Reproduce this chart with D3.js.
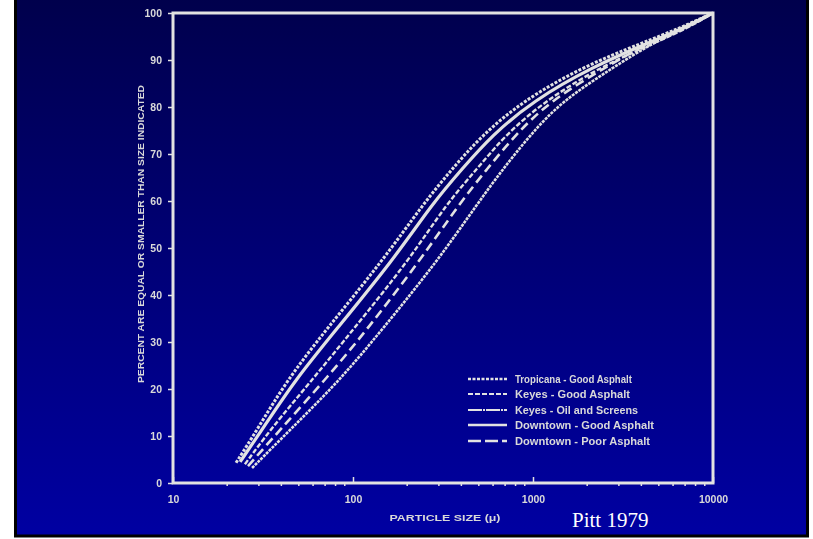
<!DOCTYPE html>
<html lang="en">
<head>
<meta charset="utf-8">
<title>Particle size distribution - Pitt 1979</title>
<script src="https://cdn.jsdelivr.net/npm/d3@7"></script>
<style>
  body { margin: 0; background: white; }
  svg { display: block; }
  .lbl { font-family: "Liberation Sans", Arial, sans-serif; font-weight: bold; fill: #d9d9d9; }
</style>
</head>
<body>
<svg id="chart" width="813" height="539"></svg>
<script>
// particle size (microns) vs percent equal or smaller
var pctLevels = [11.3, 21.9, 32.6, 47.4, 59.6, 66.8, 74.0, 81.3, 88.5, 93.6, 96.8, 100];

var tropicanaGood = [22.4, 29.3, 43.0, 70.8, 146.8, 248, 355, 521, 880, 1872, 4033, 6556, 10000];
var keyesGood     = [23.6, 31.2, 47.6, 80.5, 166.8, 278, 403, 592, 1000, 2127, 4355, 6902, 10000];
var keyesOil      = [25.1, 34.6, 59.2, 100, 204.7, 333, 489, 699, 1166, 2356, 4701, 7263, 10000];
var downtownGood  = [26.1, 39.3, 69.9, 119.6, 236, 393, 555, 794, 1243, 2544, 4355, 6902, 10000];
var downtownPoor  = [27.5, 44.7, 84.7, 144.9, 297, 495, 681, 962, 1449, 2818, 4584, 7079, 10000];

var startPcts = [4.3, 4.5, 4.0, 3.6, 3.2];

var seriesNames = ["Tropicana - Good Asphalt", "Keyes - Good Asphalt", "Keyes - Oil and Screens",
                   "Downtown - Good Asphalt", "Downtown - Poor Asphalt"];
var seriesSizes = [tropicanaGood, keyesGood, keyesOil, downtownGood, downtownPoor];

var yTicks = [0, 10, 20, 30, 40, 50, 60, 70, 80, 90, 100];
var xTicks = [10, 100, 1000, 10000];

var svg = d3.select("#chart");

// slide background
var defs = svg.append("defs");
var grad = defs.append("linearGradient").attr("id", "bg")
  .attr("x1", 0).attr("y1", 0).attr("x2", 0).attr("y2", 1);
grad.append("stop").attr("offset", "0%").attr("stop-color", "#00004c");
grad.append("stop").attr("offset", "100%").attr("stop-color", "#0000a2");

defs.append("filter").attr("id", "scan")
  .append("feGaussianBlur").attr("stdDeviation", 0.45);

svg.append("rect").attr("x", 15.5).attr("y", -2).attr("width", 792).attr("height", 538)
  .attr("fill", "url(#bg)").attr("stroke", "black").attr("stroke-width", 3);

var margin = {left: 173, right: 713, top: 13, bottom: 483};

var x = d3.scaleLog().domain([10, 10000]).range([margin.left, margin.right]);
var y = d3.scaleLinear().domain([0, 100]).range([margin.bottom, margin.top]);

var g = svg.append("g").attr("filter", "url(#scan)");
var ink = "#e2e2e2";

// frame
g.append("rect")
  .attr("x", margin.left).attr("y", margin.top)
  .attr("width", margin.right - margin.left).attr("height", margin.bottom - margin.top)
  .attr("fill", "none").attr("stroke", ink).attr("stroke-width", 3);

// y axis ticks + labels
var yAxis = d3.axisLeft(y).tickValues(yTicks).tickSize(5).tickPadding(6)
  .tickFormat(function(d){ return d; });
g.append("g").attr("transform", "translate(" + margin.left + ",0)").call(yAxis)
  .call(function(a){
    a.select(".domain").remove();
    a.selectAll("line").attr("stroke", ink).attr("stroke-width", 1.5);
    a.selectAll("text").attr("class", "lbl").attr("font-size", 10.5);
  });

// x axis: minor log ticks
var minor = [];
for (var p = 10; p < 10000; p *= 10) {
  for (var k = 2; k < 10; k++) minor.push(p * k);
}
g.append("g").selectAll("line").data(minor).enter().append("line")
  .attr("x1", function(d){ return x(d); }).attr("x2", function(d){ return x(d); })
  .attr("y1", margin.bottom).attr("y2", margin.bottom + 3)
  .attr("stroke", ink).attr("stroke-width", 1.5);

var xAxis = d3.axisBottom(x).tickValues(xTicks).tickSize(-6).tickPadding(13)
  .tickFormat(function(d){ return d; });
g.append("g").attr("transform", "translate(0," + margin.bottom + ")").call(xAxis)
  .call(function(a){
    a.select(".domain").remove();
    a.selectAll("line").attr("stroke", ink).attr("stroke-width", 1.5);
    a.selectAll("text").attr("class", "lbl").attr("font-size", 10.5);
  });

// axis titles
g.append("text").attr("class", "lbl")
  .attr("transform", "translate(144,234) rotate(-90)")
  .attr("text-anchor", "middle").attr("font-size", 9.5)
  .attr("textLength", 298).attr("lengthAdjust", "spacingAndGlyphs")
  .text("PERCENT ARE EQUAL OR SMALLER THAN SIZE INDICATED");

g.append("text").attr("class", "lbl")
  .attr("x", 445).attr("y", 521).attr("text-anchor", "middle").attr("font-size", 9.5)
  .attr("textLength", 111).attr("lengthAdjust", "spacingAndGlyphs")
  .text("PARTICLE SIZE (\u03bc)");

// curve styles, one per series (same order as seriesNames)
var styles = [
  {dash: "3,1.5", width: 3},
  {dash: null, width: 3.2},
  {dash: "5,2", width: 2.4},
  {dash: "9,5", width: 2.6},
  {dash: "3,1", width: 2.6}
];

var line = d3.line()
  .x(function(d){ return x(d[0]); })
  .y(function(d){ return y(d[1]); })
  .curve(d3.curveBasis);

seriesSizes.forEach(function(sizes, i){
  var pts = sizes.map(function(s, j){
    return [s, j === 0 ? startPcts[i] : pctLevels[j - 1]];
  });
  g.append("path").datum(pts)
    .attr("d", line)
    .attr("fill", "none")
    .attr("stroke", ink)
    .attr("stroke-width", styles[i].width)
    .attr("stroke-dasharray", styles[i].dash)
    .attr("stroke-linecap", "butt");
});

// legend
var legendRows = [379, 394, 410, 425, 441];
var legendWidths = [117, 115, 123, 139, 135];
var legendStyles = [
  {dash: "3,1.5", width: 2.4},
  {dash: "5,2", width: 2},
  {dash: "14,1,2,1", width: 2},
  {dash: null, width: 2.6},
  {dash: "13,4", width: 2.4}
];
var lg = g.append("g");
seriesNames.forEach(function(name, i){
  lg.append("line")
    .attr("x1", 468).attr("x2", 507)
    .attr("y1", legendRows[i]).attr("y2", legendRows[i])
    .attr("stroke", ink).attr("stroke-width", legendStyles[i].width)
    .attr("stroke-dasharray", legendStyles[i].dash);
  lg.append("text").attr("class", "lbl")
    .attr("x", 515).attr("y", legendRows[i] + 4).attr("font-size", 10)
    .attr("textLength", legendWidths[i]).attr("lengthAdjust", "spacingAndGlyphs")
    .text(name);
});

// source note
svg.append("text")
  .attr("x", 572).attr("y", 527)
  .attr("font-family", "'Liberation Serif', 'Times New Roman', serif")
  .attr("font-size", 21).attr("fill", "white")
  .text("Pitt 1979");
</script>
</body>
</html>
